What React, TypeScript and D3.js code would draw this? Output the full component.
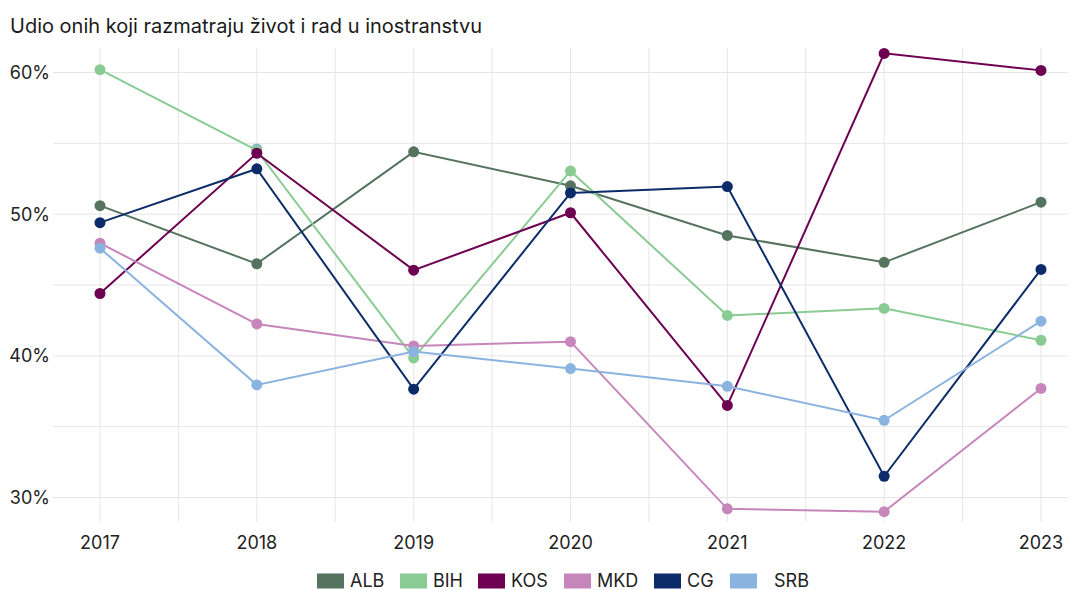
import React from "react";
import * as d3 from "d3";

const years = [2017, 2018, 2019, 2020, 2021, 2022, 2023];
const countries = ["ALB", "BIH", "KOS", "MKD", "CG", "SRB"];
const colors = ["#55735F", "#8ACB94", "#6D0050", "#C786BB", "#0C2C69", "#8BB3E0"];

// shares in %, one array per country, in the order of years
const alb = [50.6, 46.5, 54.4, 52.0, 48.5, 46.6, 50.85];
const bih = [60.2, 54.5, 39.85, 53.05, 42.85, 43.35, 41.1];
const kos = [44.4, 54.3, 46.05, 50.1, 36.5, 61.35, 60.15];
const mkd = [47.95, 42.25, 40.7, 41.0, 29.2, 29.0, 37.7];
const cg = [49.4, 53.2, 37.65, 51.5, 51.95, 31.5, 46.1];
const srb = [47.6, 37.95, 40.3, 39.1, 37.85, 35.45, 42.45];
const seriesValues = [alb, bih, kos, mkd, cg, srb];

// a lone point that sits under the 2018 cluster
const extraPoints = [{ country: "SRB", year: 2018, value: 54.6 }];

const yTicks = [30, 40, 50, 60];
const yMinor = [35, 45, 55];

const title = "Udio onih koji razmatraju život i rad u inostranstvu";

export default function App() {
  const width = 1073;
  const height = 590;
  const panel = { left: 53, right: 1068, top: 48, bottom: 522 };
  const font = "Inter, 'Noto Sans', sans-serif";

  const x = d3.scaleLinear().domain([2017, 2023]).range([100, 1041]);
  const y = d3.scaleLinear().domain([30, 60]).range([497.5, 72.5]);

  const line = d3
    .line<number>()
    .x((d, i) => x(years[i]))
    .y((d) => y(d));

  const halfYears = years.slice(1).map((yr) => yr - 0.5);
  const legendX = [317, 400, 478, 564, 654, 730];

  return (
    <svg
      width={width}
      height={height}
      style={{ position: "absolute", left: 0, top: 0, background: "#fff" }}
      fontFamily={font}
    >
      <text x={10} y={33} fontSize={20} fill="#1a1a1a">
        {title}
      </text>

      <g stroke="#e6e6e6" strokeWidth={1}>
        {yMinor.concat(yTicks).map((t) => (
          <line key={"h" + t} x1={panel.left} x2={panel.right} y1={y(t)} y2={y(t)} />
        ))}
        {years.concat(halfYears).map((t) => (
          <line key={"v" + t} x1={x(t)} x2={x(t)} y1={panel.top} y2={panel.bottom} />
        ))}
      </g>

      <g fontSize={18} fill="#222">
        {yTicks.map((t) => (
          <text key={t} x={50} y={y(t)} dy="0.36em" textAnchor="end">
            {t}%
          </text>
        ))}
        {years.map((yr) => (
          <text key={yr} x={x(yr)} y={543} dy="0.36em" textAnchor="middle">
            {yr}
          </text>
        ))}
      </g>

      {extraPoints.map((p, i) => (
        <circle
          key={"e" + i}
          cx={x(p.year)}
          cy={y(p.value)}
          r={5.5}
          fill={colors[countries.indexOf(p.country)]}
        />
      ))}

      {seriesValues.map((vals, si) => (
        <g key={countries[si]}>
          <path d={line(vals) || ""} fill="none" stroke={colors[si]} strokeWidth={2} />
          {vals.map((v, i) => (
            <circle key={i} cx={x(years[i])} cy={y(v)} r={5.5} fill={colors[si]} />
          ))}
        </g>
      ))}

      <g fontSize={18} fill="#222">
        {countries.map((c, i) => (
          <g key={c}>
            <rect x={legendX[i]} y={573.5} width={27} height={15} fill={colors[i]} />
            <text x={legendX[i] + (c === "SRB" ? 44 : 33)} y={581} dy="0.36em">
              {c}
            </text>
          </g>
        ))}
      </g>
    </svg>
  );
}
